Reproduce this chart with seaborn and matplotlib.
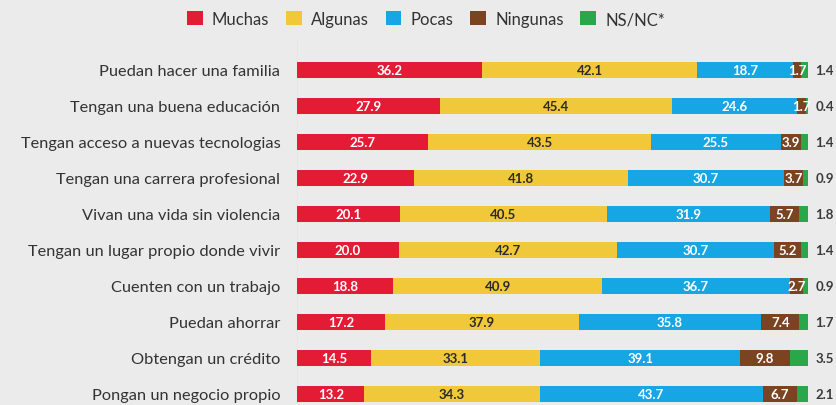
import matplotlib
matplotlib.use("Agg")
import matplotlib.pyplot as plt
import seaborn as sns
import pandas as pd
import numpy as np
from matplotlib.patches import Patch

categories = [
    "Puedan hacer una familia",
    "Tengan una buena educación",
    "Tengan acceso a nuevas tecnologias",
    "Tengan una carrera profesional",
    "Vivan una vida sin violencia",
    "Tengan un lugar propio donde vivir",
    "Cuenten con un trabajo",
    "Puedan ahorrar",
    "Obtengan un crédito",
    "Pongan un negocio propio",
]
muchas = [36.2, 27.9, 25.7, 22.9, 20.1, 20.0, 18.8, 17.2, 14.5, 13.2]
algunas = [42.1, 45.4, 43.5, 41.8, 40.5, 42.7, 40.9, 37.9, 33.1, 34.3]
pocas = [18.7, 24.6, 25.5, 30.7, 31.9, 30.7, 36.7, 35.8, 39.1, 43.7]
ningunas = [1.7, 1.7, 3.9, 3.7, 5.7, 5.2, 2.7, 7.4, 9.8, 6.7]
nsnc = [1.4, 0.4, 1.4, 0.9, 1.8, 1.4, 0.9, 1.7, 3.5, 2.1]
series_names = ["Muchas", "Algunas", "Pocas", "Ningunas", "NS/NC*"]

colors = ["#e31b35", "#f1c83a", "#16a6e3", "#7a4322", "#2aa64b"]
text_colors = ["white", "#2b2b2b", "white", "white", None]
bg = "#ebebeb"

sns.set_theme(style="white")
plt.rcParams["font.family"] = ["Lato", "DejaVu Sans"]

series = [muchas, algunas, pocas, ningunas, nsnc]
vals = np.array(series)
cums = np.cumsum(vals, axis=0)

fig = plt.figure(figsize=(8.36, 4.06), dpi=100, facecolor=bg)
ax = fig.add_axes([297 / 836, 0, (808 - 297) / 836, 1 - 40 / 406])
ax.set_facecolor(bg)

# draw from the full stack down so each shorter layer sits on top
for k in range(len(series) - 1, -1, -1):
    df = pd.DataFrame({"cat": categories, "val": cums[k]})
    sns.barplot(data=df, x="val", y="cat", orient="h", color=colors[k],
                width=0.47, ax=ax, saturation=1, linewidth=0)

for i in range(len(categories)):
    for k in range(4):
        center = cums[k, i] - vals[k, i] / 2
        ax.text(center, i, f"{vals[k, i]:.1f}", ha="center", va="center",
                color=text_colors[k], fontsize=9.5, fontweight="bold")
    ax.text(101.4, i, f"{nsnc[i]:.1f}", ha="left", va="center",
            color="#3a3a3a", fontsize=9.5, fontweight="bold", clip_on=False)

ax.axvline(-0.4, color="#d9d9d9", lw=2.5, zorder=0)
ax.set_xlim(0, 100)
ax.set_ylim(9 + (406 - 71 - 36 * 9) / 36, -(71 - 40) / 36)
ax.set_xlabel("")
ax.set_ylabel("")
ax.set_xticks([])
ax.tick_params(axis="y", length=0, pad=12, labelsize=11.8, labelcolor="#333333")
for s in ax.spines.values():
    s.set_visible(False)

handles = [Patch(facecolor=c, edgecolor="none") for c in colors]
fig.legend(handles, series_names, loc="center", bbox_to_anchor=(426 / 836, 1 - 20 / 406),
           ncol=5, frameon=False, fontsize=12, handlelength=0.95, handleheight=0.95,
           columnspacing=1.0, handletextpad=0.55, labelcolor="#333333")

fig.savefig("out.png", dpi=100, facecolor=bg)
